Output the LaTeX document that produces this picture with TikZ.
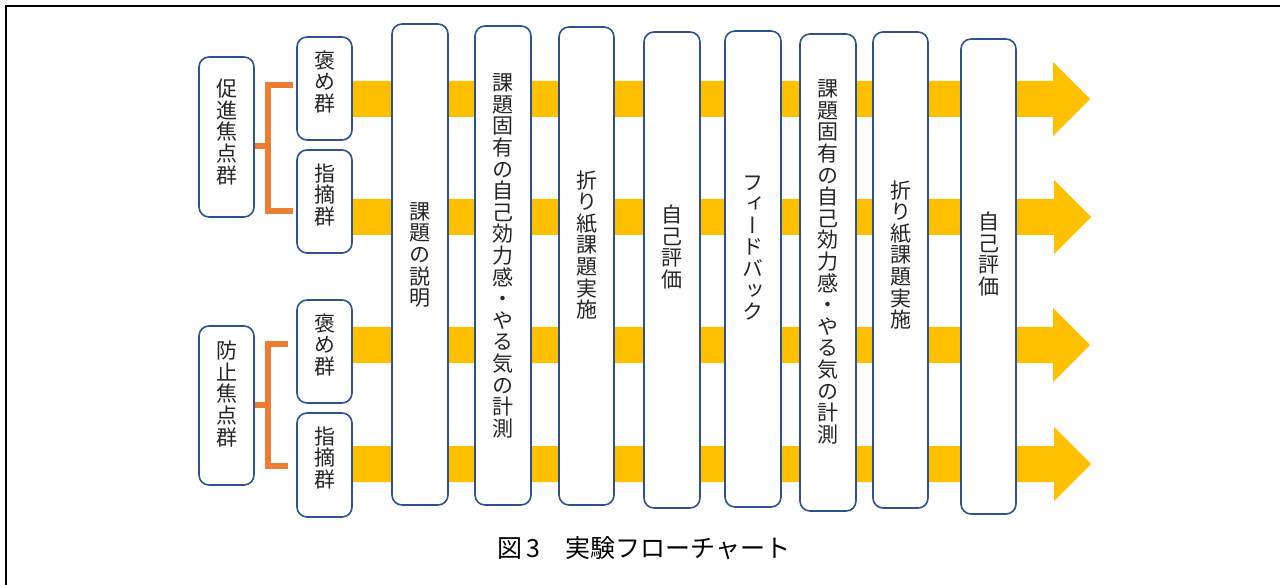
\documentclass[tikz,border=0pt]{standalone}
\usepackage{fontspec}
\setmainfont{Noto Sans CJK JP}
\newfontfamily\vjp[RawFeature=+vert]{Noto Sans CJK JP}
\newfontfamily\hjp{Noto Sans CJK JP}
\definecolor{boxblue}{HTML}{2F528F}
\definecolor{barorange}{HTML}{ED7D31}
\definecolor{arrowyellow}{HTML}{FFC000}
\tikzset{
  box/.style={draw=boxblue, line width=1.6pt, fill=white, rounded corners=10pt, inner sep=0pt},
  vtext/.style={align=center, inner sep=0pt, font=\vjp\fontsize{21}{21.6}\selectfont, text=black!85},
  bracket/.style={draw=barorange, line width=6pt, line join=miter, line cap=butt},
  arrowfill/.style={fill=arrowyellow},
}
\begin{document}
\begin{tikzpicture}[x=1pt,y=-1pt]
\useasboundingbox (0,0) rectangle (1280,585);
\fill[white] (0,0) rectangle (1280,585);
% frame
\draw[line width=2pt] (6,585) -- (6,6) -- (1280,6);

% yellow block arrows
\fill[arrowfill] (330,81) -- (1053,81) -- (1053,62) -- (1090,99) -- (1053,136) -- (1053,117) -- (330,117) -- cycle;
\fill[arrowfill] (330,199) -- (1054,199) -- (1054,180) -- (1091,217) -- (1054,254) -- (1054,235) -- (330,235) -- cycle;
\fill[arrowfill] (330,327) -- (1053,327) -- (1053,308) -- (1090,345) -- (1053,382) -- (1053,363) -- (330,363) -- cycle;
\fill[arrowfill] (330,446) -- (1054,446) -- (1054,427) -- (1091,464) -- (1054,501) -- (1054,482) -- (330,482) -- cycle;

% group boxes
\node[box, minimum width=55pt, minimum height=160pt] (P1) at (226.5,137) {};
\node[box, minimum width=55pt, minimum height=159pt] (P2) at (226.5,405.5) {};
\node[box, minimum width=55pt, minimum height=103pt] (H1) at (324.5,88.5) {};
\node[box, minimum width=55pt, minimum height=103pt] (S1) at (324.5,201.5) {};
\node[box, minimum width=55pt, minimum height=103pt] (H2) at (324.5,351.5) {};
\node[box, minimum width=55pt, minimum height=104pt] (S2) at (324.5,465) {};

% step boxes
\node[box, minimum width=56pt, minimum height=481pt] (B1) at (420,264.5) {};
\node[box, minimum width=56pt, minimum height=479pt] (B2) at (503,265.5) {};
\node[box, minimum width=55pt, minimum height=478pt] (B3) at (586.5,266) {};
\node[box, minimum width=56pt, minimum height=476pt] (B4) at (672,270) {};
\node[box, minimum width=56pt, minimum height=476pt] (B5) at (753,269) {};
\node[box, minimum width=56pt, minimum height=477pt] (B6) at (828,272.5) {};
\node[box, minimum width=55pt, minimum height=476pt] (B7) at (900.5,270) {};
\node[box, minimum width=55pt, minimum height=475pt] (B8) at (988.5,276.5) {};

% texts
\node[vtext] (tP1) at (226.5,132) {促\\進\\焦\\点\\群};
\node[vtext] (tP2) at (226.5,394) {防\\止\\焦\\点\\群};
\node[vtext] (tH1) at (324.5,82) {褒\\め\\群};
\node[vtext] (tS1) at (324.5,195) {指\\摘\\群};
\node[vtext] (tH2) at (324.5,345) {褒\\め\\群};
\node[vtext] (tS2) at (324.5,458) {指\\摘\\群};
\node[vtext] (tB1) at (420,255) {課\\題\\の\\説\\明};
\node[vtext] (tB2) at (503,256) {課\\題\\固\\有\\の\\自\\己\\効\\力\\感\\・\\や\\る\\気\\の\\計\\測};
\node[vtext] (tB3) at (586.5,245) {折\\り\\紙\\課\\題\\実\\施};
\node[vtext] (tB4) at (672,247) {自\\己\\評\\価};
\node[vtext] (tB5) at (753,248) {フ\\ィ\\ー\\ド\\バ\\ッ\\ク};
\node[vtext] (tB6) at (828,262) {課\\題\\固\\有\\の\\自\\己\\効\\力\\感\\・\\や\\る\\気\\の\\計\\測};
\node[vtext] (tB7) at (900.5,255) {折\\り\\紙\\課\\題\\実\\施};
\node[vtext] (tB8) at (988.5,254) {自\\己\\評\\価};

% brackets
\coordinate (k1a) at (293,85);
\coordinate (k1b) at (268,85);
\coordinate (k1c) at (268,211);
\coordinate (k1d) at (293,211);
\coordinate (k1s) at (268,146);
\coordinate (k1p) at (P1.east |- k1s);
\draw[bracket] (k1a) -- (k1b) -- (k1c) -- (k1d);
\draw[bracket] (k1p) -- (k1s);
\coordinate (k2a) at (288,344);
\coordinate (k2b) at (268,344);
\coordinate (k2c) at (268,466);
\coordinate (k2d) at (288,466);
\coordinate (k2s) at (268,405);
\coordinate (k2p) at (P2.east |- k2s);
\draw[bracket] (k2a) -- (k2b) -- (k2c) -- (k2d);
\draw[bracket] (k2p) -- (k2s);

% caption
\node[font=\hjp\fontsize{25}{28}\selectfont, inner sep=0pt] (cap) at (644,548) {図\,3　実験フローチャート};
\end{tikzpicture}
\end{document}
